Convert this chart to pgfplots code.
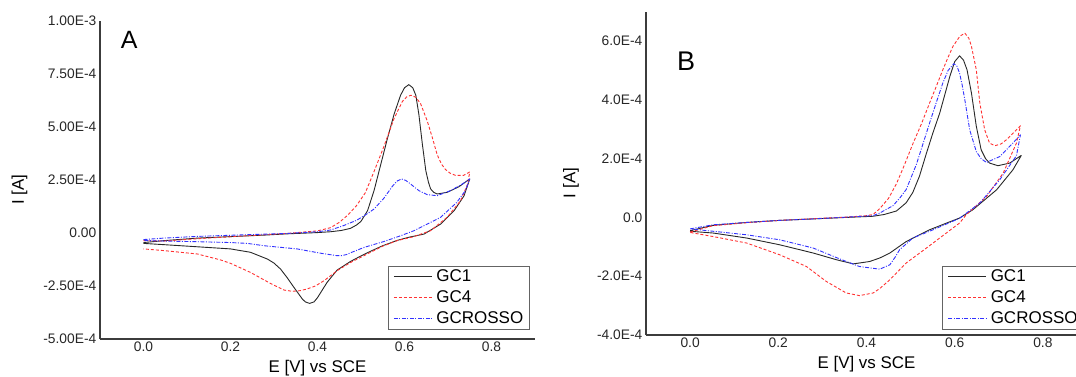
\documentclass[border=0pt]{standalone}
\usepackage{fontspec}
\setmainfont{Liberation Sans}
\usepackage{pgfplots}
\pgfplotsset{compat=1.18}
\definecolor{cvblack}{RGB}{40,40,40}
\definecolor{cvred}{RGB}{255,50,50}
\definecolor{cvblue}{RGB}{50,50,255}
\definecolor{axisgray}{RGB}{60,60,60}
\definecolor{leggray}{RGB}{100,100,100}
\pgfplotsset{
  cvstyle/.style={
    scale only axis,
    axis lines=left,
    axis line style={-, line width=1.5pt, axisgray},
    xmin=-0.1, xmax=0.9,
    xtick={0,0.2,0.4,0.6,0.8},
    xticklabels={0.0,0.2,0.4,0.6,0.8},
    major tick length=0pt,
    tick label style={font=\fontsize{13.8pt}{16pt}\selectfont, inner sep=0pt, text=black!85},
    xticklabel style={anchor=north, yshift=-2.5pt},
    yticklabel style={anchor=east, xshift=-3.5pt},
    label style={font=\fontsize{16.9pt}{20pt}\selectfont},
    xlabel={E [V] vs SCE},
    ylabel={I [A]},
    xlabel style={at={(axis description cs:0.5,0)}, anchor=base, yshift=-33.7pt},
    legend cell align=left,
    legend image code/.code={\draw[##1, line width=1pt] (0pt,0.3pt) -- (38pt,0.3pt);},
    legend style={draw=leggray, line width=0.8pt, inner xsep=5pt, inner ysep=1.5pt,
      row sep=1.8pt, column sep=3pt, anchor=north west,
      font=\fontsize{17pt}{20pt}\selectfont,
      nodes={inner sep=1pt, text height=13pt, text depth=4pt}},
    every axis plot/.append style={line width=0.9pt, line join=round},
  },
  gcone/.style={draw=cvblack, color=cvblack, solid},
  gcfour/.style={draw=cvred, color=cvred, dash pattern=on 3pt off 2pt},
  gcrosso/.style={draw=cvblue, color=cvblue, dash pattern=on 4pt off 1.5pt on 1pt off 1.5pt},
}
\begin{document}
\begin{tikzpicture}
\useasboundingbox (0,0) rectangle (1076pt,376pt);
\clip (0,0) rectangle (1076pt,376pt);
\begin{axis}[cvstyle, at={(100pt,37pt)}, anchor=south west, width=435pt, height=318pt,
  ymin=-5, ymax=10, ytick={-5,-2.5,0,2.5,5,7.5,10},
  yticklabels={-5.00E-4,-2.50E-4,0.00,2.50E-4,5.00E-4,7.50E-4,1.00E-3},
  ylabel style={at={(axis description cs:-0.185,0.469)}, anchor=center},
  legend style={at={(axis description cs:0.662,0.2305)}}]
\addplot[gcone] coordinates {(0,-0.45) (0.047,-0.36) (0.124,-0.24) (0.2,-0.17) (0.277,-0.10) (0.33,-0.04) (0.40,0.02) (0.43,0.06) (0.455,0.12) (0.476,0.22) (0.49,0.38) (0.50,0.55) (0.515,1.05) (0.53,2.0) (0.545,3.2) (0.56,4.4) (0.576,5.6) (0.591,6.5) (0.60,6.85) (0.61,7.0) (0.619,6.85) (0.626,6.5) (0.633,5.6) (0.641,4.2) (0.649,2.94) (0.655,2.4) (0.66,2.08) (0.667,1.92) (0.675,1.84) (0.698,1.92) (0.725,2.18) (0.75,2.55)
(0.737,1.76) (0.714,1.05) (0.683,0.42) (0.645,-0.05) (0.61,-0.2) (0.583,-0.35) (0.55,-0.6) (0.522,-0.86) (0.50,-1.08) (0.476,-1.34) (0.445,-1.75) (0.422,-2.33) (0.40,-3.05) (0.392,-3.25) (0.382,-3.32) (0.372,-3.25) (0.365,-3.11) (0.346,-2.57) (0.33,-2.1) (0.315,-1.70) (0.30,-1.42) (0.285,-1.23) (0.246,-0.91) (0.2,-0.75) (0.124,-0.65) (0.047,-0.55) (0,-0.49)};
\addlegendentry{GC1}
\addplot[gcfour] coordinates {(0,-0.36) (0.047,-0.38) (0.124,-0.27) (0.239,-0.13) (0.33,-0.02) (0.40,0.1) (0.43,0.25) (0.45,0.5) (0.47,0.85) (0.49,1.3) (0.51,1.9) (0.53,2.9) (0.553,4.1) (0.576,5.4) (0.595,6.2) (0.605,6.42) (0.615,6.5) (0.626,6.4) (0.637,6.1) (0.652,5.3) (0.664,4.5) (0.675,3.7) (0.685,3.25) (0.694,3.0) (0.705,2.82) (0.717,2.72) (0.736,2.72) (0.75,2.88)
(0.745,2.3) (0.729,1.52) (0.698,0.74) (0.66,0.11) (0.62,-0.18) (0.583,-0.36) (0.55,-0.62) (0.522,-0.91) (0.476,-1.39) (0.445,-1.78) (0.415,-2.25) (0.395,-2.5) (0.376,-2.64) (0.36,-2.72) (0.342,-2.75) (0.323,-2.69) (0.292,-2.38) (0.246,-1.86) (0.2,-1.43) (0.177,-1.27) (0.124,-0.99) (0.047,-0.83) (0,-0.75)};
\addlegendentry{GC4}
\addplot[gcrosso] coordinates {(0,-0.31) (0.047,-0.24) (0.124,-0.16) (0.239,-0.08) (0.33,-0.02) (0.40,0.06) (0.43,0.14) (0.46,0.35) (0.49,0.6) (0.51,0.85) (0.53,1.13) (0.553,1.65) (0.572,2.2) (0.583,2.45) (0.593,2.55) (0.603,2.48) (0.614,2.31) (0.633,2.0) (0.652,1.81) (0.675,1.76) (0.706,2.0) (0.733,2.31) (0.75,2.55)
(0.74,2.0) (0.72,1.44) (0.683,0.74) (0.622,0.11) (0.591,-0.13) (0.553,-0.40) (0.507,-0.68) (0.48,-0.9) (0.466,-1.02) (0.455,-1.07) (0.445,-1.07) (0.409,-0.96) (0.353,-0.75) (0.277,-0.6) (0.239,-0.49) (0.2,-0.45) (0.124,-0.41) (0.047,-0.38) (0,-0.35)};
\addlegendentry{GCROSSO}
\end{axis}
\node[anchor=base west, inner sep=0pt, font=\fontsize{25pt}{30pt}\selectfont] at (120.7pt,327.7pt) {A};
\begin{axis}[cvstyle, at={(646pt,41pt)}, anchor=south west, width=441pt, height=323.3pt,
  ymin=-4, ymax=7, ytick={-4,-2,0,2,4,6},
  yticklabels={-4.0E-4,-2.0E-4,0.0,2.0E-4,4.0E-4,6.0E-4},
  ylabel style={at={(axis description cs:-0.170,0.47)}, anchor=center},
  legend style={at={(axis description cs:0.672,0.2144)}}]
\addplot[gcone] coordinates {(0,-0.45) (0.052,-0.27) (0.128,-0.17) (0.203,-0.1) (0.28,-0.05) (0.354,0.0) (0.415,0.04) (0.44,0.1) (0.468,0.22) (0.49,0.5) (0.505,0.85) (0.52,1.4) (0.536,2.19) (0.55,2.85) (0.566,3.55) (0.578,4.2) (0.589,4.8) (0.60,5.3) (0.611,5.5) (0.62,5.35) (0.628,5.02) (0.638,4.23) (0.649,3.1) (0.66,2.3) (0.67,2.0) (0.679,1.85) (0.698,1.76) (0.725,1.85) (0.751,2.11)
(0.732,1.62) (0.695,0.94) (0.641,0.26) (0.611,-0.02) (0.58,-0.2) (0.543,-0.42) (0.49,-0.82) (0.453,-1.21) (0.43,-1.38) (0.407,-1.50) (0.37,-1.58) (0.332,-1.44) (0.279,-1.21) (0.203,-0.93) (0.128,-0.70) (0.052,-0.53) (0,-0.47)};
\addlegendentry{GC1}
\addplot[gcfour] coordinates {(0,-0.5) (0.052,-0.28) (0.128,-0.18) (0.203,-0.1) (0.28,-0.04) (0.354,0.01) (0.40,0.06) (0.415,0.1) (0.43,0.3) (0.45,0.65) (0.468,1.15) (0.485,1.75) (0.505,2.5) (0.525,3.2) (0.543,3.89) (0.558,4.45) (0.573,5.02) (0.585,5.45) (0.596,5.82) (0.612,6.17) (0.623,6.27) (0.632,6.1) (0.638,5.82) (0.649,5.02) (0.657,3.89) (0.668,2.98) (0.679,2.53) (0.691,2.44) (0.705,2.5) (0.717,2.64) (0.740,2.98) (0.749,3.12)
(0.740,2.53) (0.710,1.51) (0.672,0.71) (0.626,0.09) (0.611,-0.19) (0.581,-0.53) (0.536,-1.04) (0.49,-1.55) (0.453,-2.12) (0.43,-2.42) (0.415,-2.57) (0.384,-2.66) (0.354,-2.57) (0.309,-2.18) (0.264,-1.67) (0.203,-1.27) (0.128,-0.87) (0.052,-0.65) (0,-0.51)};
\addlegendentry{GC4}
\addplot[gcrosso] coordinates {(0,-0.39) (0.052,-0.25) (0.128,-0.17) (0.203,-0.1) (0.28,-0.05) (0.354,0.01) (0.415,0.06) (0.43,0.15) (0.46,0.4) (0.475,0.65) (0.49,0.95) (0.513,1.8) (0.528,2.5) (0.543,3.21) (0.558,3.9) (0.573,4.57) (0.585,5.0) (0.598,5.23) (0.605,5.15) (0.611,4.91) (0.617,4.5) (0.623,4.0) (0.634,2.98) (0.649,2.24) (0.66,2.0) (0.672,1.87) (0.702,2.07) (0.732,2.53) (0.749,2.81)
(0.740,2.1) (0.702,1.28) (0.657,0.49) (0.611,-0.03) (0.551,-0.42) (0.505,-0.70) (0.475,-1.10) (0.465,-1.35) (0.453,-1.61) (0.43,-1.76) (0.384,-1.67) (0.339,-1.41) (0.279,-1.04) (0.203,-0.76) (0.128,-0.59) (0.052,-0.47) (0,-0.39)};
\addlegendentry{GCROSSO}
\end{axis}
\node[anchor=base west, inner sep=0pt, font=\fontsize{27pt}{32pt}\selectfont] at (676.8pt,306pt) {B};
\end{tikzpicture}
\end{document}
